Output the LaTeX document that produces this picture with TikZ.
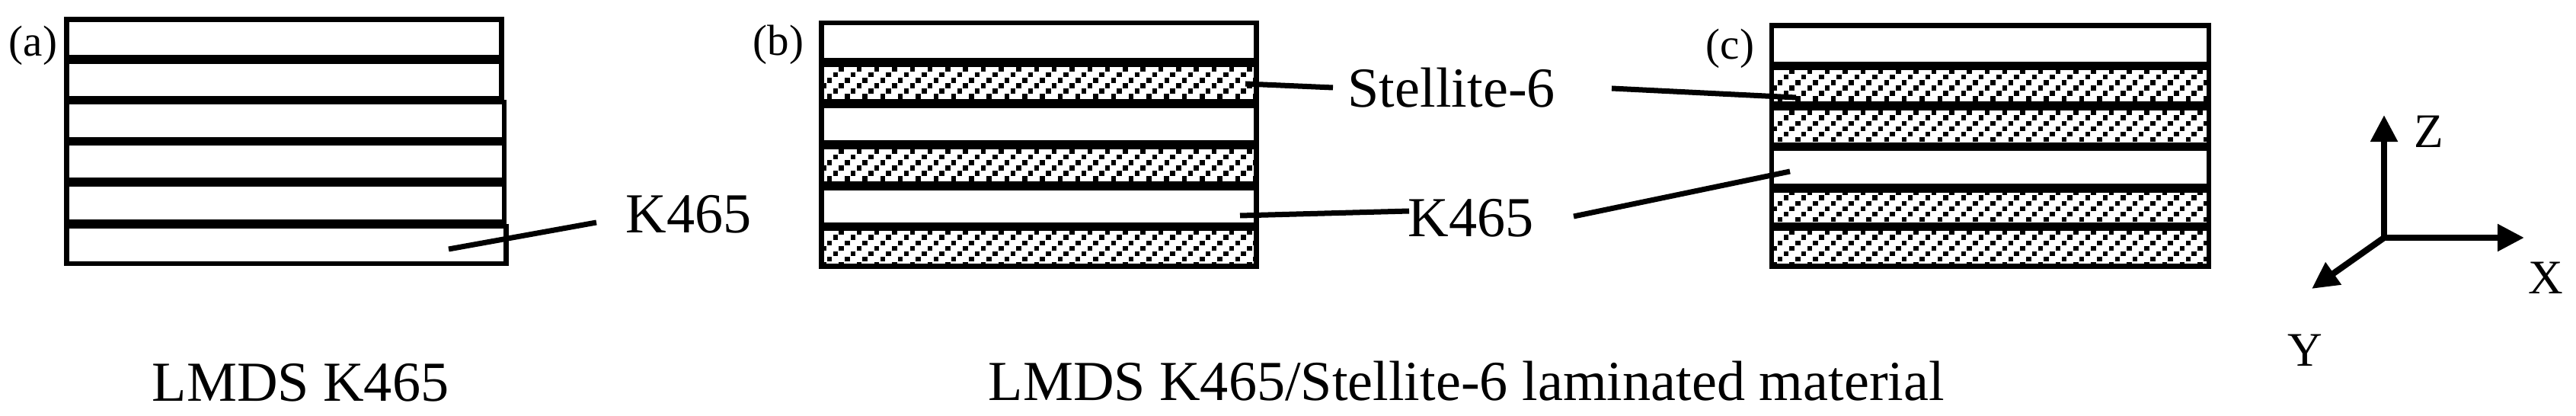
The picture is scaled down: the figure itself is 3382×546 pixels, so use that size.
\documentclass[tikz,border=0pt]{standalone}
\usepackage{fontspec}
\setmainfont{Liberation Serif}
\usetikzlibrary{arrows.meta}
\tikzset{
  outline/.style={line width=0.068cm},
  sepline/.style={line width=0.115cm},
  leader/.style={line width=0.07cm},
  lbl/.style={font=\fontsize{21.1}{25}\selectfont, inner sep=0pt, anchor=base west},
  plbl/.style={font=\fontsize{16.2}{19}\selectfont, inner sep=0pt, anchor=center},
  axl/.style={font=\fontsize{18}{21}\selectfont, inner sep=0pt, anchor=base west},
  axarrow/.style={line width=0.082cm, -{Triangle[length=0.35cm,width=0.34cm]}},
}
% hatched band: #1 = left x, #2 = right x, #3 = top y, #4 = bottom y (pixel units, y downward)
\newcommand{\hatchband}[4]{%
  \begin{scope}
    \clip (#1,#3) rectangle (#2,#4);
    \foreach \k in {0,...,7} {
      \foreach \i in {-1,...,25} {
        \fill ({#1+23.3*\i+7.77*\k},{#4+1-7.1*\k}) rectangle ++(6.5,-6.5);
      }
    }
  \end{scope}}
\begin{document}
\begin{tikzpicture}[x=0.01cm,y=-0.01cm]
\useasboundingbox (0,0) rectangle (3382,546);
\fill[white] (0,0) rectangle (3382,546);

% ---------- panel (a) ----------
\foreach \y in {78,131.5,185.5,239,294} \draw[sepline] (87.5,\y) -- (662,\y);
\draw[outline] (658.5,25.6) -- (87.5,25.6) -- (87.5,346) -- (664.5,346);
\draw[outline] (658.5,22.2) -- (658.5,131.5);
\draw[outline] (662,131.5) -- (662,294);
\draw[outline] (664.5,294) -- (664.5,349.4);
\node[plbl] (la) at (43.5,60) {(a)};
\node[lbl] (ka) at (821,306) {K465};
\coordinate (ka0) at (589,327);
\coordinate (ka1) at (783,292);
\draw[leader] (ka0) -- (ka1);
\node[lbl] (ta) at (199,527) {LMDS K465};

% ---------- panel (b) ----------
\hatchband{1078}{1650}{82}{136}
\hatchband{1078}{1650}{190}{244}
\hatchband{1078}{1650}{297.5}{349.5}
\foreach \y in {82,136,190,244,297.5} \draw[sepline] (1078.3,\y) -- (1649.5,\y);
\draw[outline] (1078.3,30) rectangle (1649.5,349.5);
\node[plbl] (lb) at (1022,58.5) {(b)};
\node[lbl] (sb) at (1769,141) {Stellite-6};
\node[lbl] (kb) at (1848,311) {K465};
\coordinate (sb0) at (1635,110);
\coordinate (sb1) at (1750,115);
\draw[leader] (sb0) -- (sb1);
\coordinate (kb0) at (1628,283);
\coordinate (kb1) at (1850,277);
\draw[leader] (kb0) -- (kb1);
\node[lbl] (tb) at (1297,525) {LMDS K465/Stellite-6 laminated material};

% ---------- panel (c) ----------
\hatchband{2326}{2900}{86.5}{139}
\hatchband{2326}{2900}{139}{192.5}
\hatchband{2326}{2900}{247}{297.5}
\hatchband{2326}{2900}{297.5}{349.5}
\foreach \y in {86.5,139,192.5,247,297.5} \draw[sepline] (2326,\y) -- (2900,\y);
\draw[outline] (2326,33.5) rectangle (2900,349.5);
\node[plbl] (lc) at (2271.5,64) {(c)};
\coordinate (sc0) at (2116,116);
\coordinate (sc1) at (2358,128);
\draw[leader] (sc0) -- (sc1);
\coordinate (kc0) at (2066,284);
\coordinate (kc1) at (2350,225);
\draw[leader] (kc0) -- (kc1);

% ---------- axes ----------
\coordinate (o) at (3130,312);
\coordinate (zt) at (3130,151);
\coordinate (xt) at (3314,312);
\coordinate (yt) at (3035,379);
\draw[axarrow] (o) -- (zt);
\draw[axarrow] (o) -- (xt);
\draw[axarrow] (o) -- (yt);
\node[axl] (zl) at (3169,194) {Z};
\node[axl] (xl) at (3319,386) {X};
\node[axl] (yl) at (3003,481) {Y};
\end{tikzpicture}
\end{document}
